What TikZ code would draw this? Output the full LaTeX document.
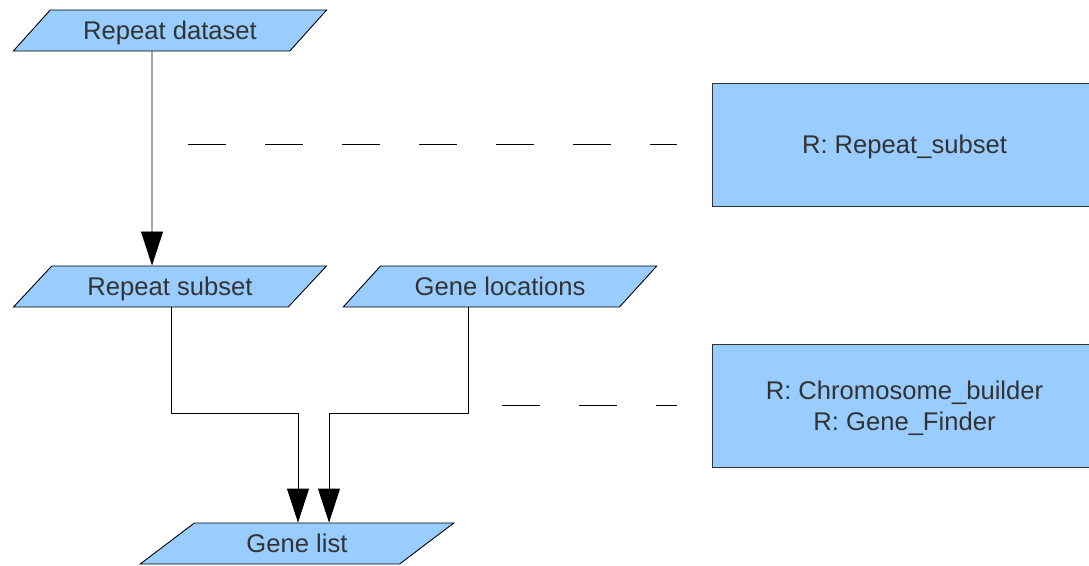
\documentclass[tikz,border=0pt]{standalone}
\usepackage{fontspec}
\setmainfont{Liberation Sans}
\usetikzlibrary{shapes.geometric,arrows.meta,calc}
\definecolor{boxblue}{HTML}{99CCFF}
\definecolor{txtgray}{HTML}{333333}
\tikzset{
  data/.style={trapezium, trapezium stretches=true,
    trapezium left angle=34, trapezium right angle=146,
    minimum width=314pt, minimum height=41pt, inner sep=0pt,
    text height=18pt, text depth=0pt,
    draw=black, line width=0.9pt, fill=boxblue, text=txtgray,
    font=\fontsize{25.6}{31}\selectfont},
  tool/.style={rectangle, minimum width=385pt, minimum height=123pt,
    text height=18pt, text depth=0pt,
    draw=txtgray, line width=0.9pt, fill=boxblue, text=txtgray, align=center,
    font=\fontsize{25.6}{31}\selectfont},
  flow/.style={draw=black, line width=0.9pt,
    -{Triangle[length=34pt,width=22pt]}},
  link/.style={draw=black, line width=0.9pt, dash pattern=on 38pt off 39pt}
}
\begin{document}
\begin{tikzpicture}[x=1pt,y=-1pt]
\useasboundingbox (0,0) rectangle (1089,565);

% data items
\node[data] (ds)   at (170,30.5)  {Repeat dataset};
\node[data] (rs)   at (170,286.5) {Repeat subset};
\node[data] (gloc) at (500,286.5) {Gene locations};
\node[data] (gl)   at (297,543.5) {Gene list};

% R tools (two-line box: height covers both lines)
\node[tool] (t1) at (904.5,144.5) {R: Repeat\_subset};
\node[tool, text height=49pt] (t2) at (904.5,406) {R: Chromosome\_builder\\R: Gene\_Finder};

% data flow
\draw[flow] ($(ds.south)+(-18,0)$) -- ($(rs.north)+(-18,0)$);
\draw[flow] ($(rs.south)+(1,0)$) |- ($(gl.north)+(1,-109)$) -- ($(gl.north)+(1,0)$);
\draw[flow] ($(gloc.south)+(-32,0)$) |- ($(gl.north)+(32,-109)$) -- ($(gl.north)+(32,0)$);

% tool links
\coordinate (l1) at (188,144);
\coordinate (l2) at (502,405);
\draw[link] (l1) -- ($(t1.west |- l1)+(-35,0)$);
\draw[link] (l2) -- ($(t2.west |- l2)+(-35,0)$);
\end{tikzpicture}
\end{document}
